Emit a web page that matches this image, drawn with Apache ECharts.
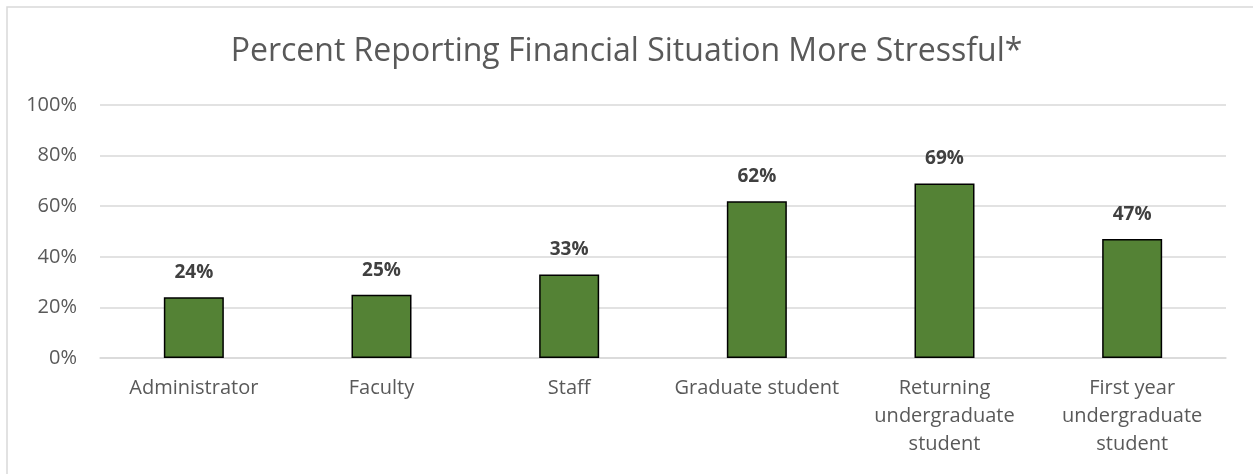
<!DOCTYPE html>
<html>
<head>
<meta charset="utf-8">
<script src="https://cdn.jsdelivr.net/npm/echarts@6/dist/echarts.min.js"></script>
<style>
    html, body { margin: 0; padding: 0; background: #fff; }
    #chart { width: 1253px; height: 474px; }
</style>
</head>
<body>
<div id="chart"></div>
<script>
    const categories = ['Administrator', 'Faculty', 'Staff', 'Graduate student',
        'Returning\nundergraduate\nstudent', 'First year\nundergraduate\nstudent'];
    const percents = [24, 25, 33, 62, 69, 47];
    const yTicks = [0, 20, 40, 60, 80, 100];

    const font = '"Open Sans", "Noto Sans", sans-serif';
    const myChart = echarts.init(document.getElementById('chart'));
    const option = {
        backgroundColor: '#fff',
        graphic: [{
            type: 'rect',
            shape: {x: 7, y: 7, width: 1300, height: 600},
            style: {fill: 'none', stroke: '#d9d9d9', lineWidth: 1.5},
            silent: true
        }],
        title: {
            text: 'Percent Reporting Financial Situation More Stressful*',
            left: 'center',
            top: 31,
            textStyle: {fontFamily: font, fontSize: 32, fontWeight: 'normal', color: '#595959'}
        },
        grid: {left: 100, right: 27, top: 105, bottom: 116},
        xAxis: {
            type: 'category',
            data: categories,
            axisLine: {lineStyle: {color: '#d9d9d9', width: 1.5}},
            axisTick: {show: false},
            axisLabel: {
                fontFamily: font, fontSize: 20, color: '#595959',
                lineHeight: 28, margin: 16, interval: 0
            }
        },
        yAxis: {
            type: 'value',
            min: 0,
            max: 100,
            interval: 20,
            axisLine: {show: false},
            axisTick: {show: false},
            splitLine: {lineStyle: {color: '#d9d9d9', width: 1.5}},
            axisLabel: {
                fontFamily: font, fontSize: 20, color: '#595959', margin: 23,
                formatter: v => yTicks.includes(v) ? v + '%' : ''
            }
        },
        series: [{
            type: 'bar',
            data: percents,
            barWidth: 60,
            itemStyle: {color: '#548235', borderColor: '#000', borderWidth: 1.5},
            label: {
                show: true,
                position: 'top',
                distance: 15,
                formatter: p => p.value + '%',
                fontFamily: font, fontSize: 19, fontWeight: 'bold', color: '#404040'
            }
        }]
    };
    myChart.setOption(option);
</script>
</body>
</html>
